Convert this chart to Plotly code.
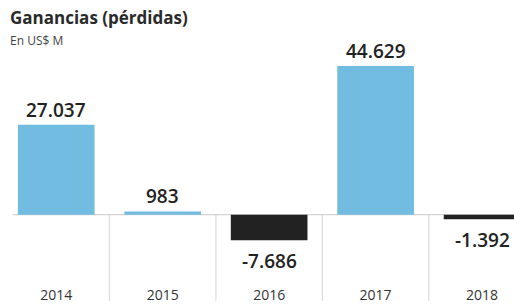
import plotly.graph_objects as go

years = ["2014", "2015", "2016", "2017", "2018"]
values = [27037, 983, -7686, 44629, -1392]
title = "Ganancias (pérdidas)"
subtitle = "En US$ M"

BLUE = "#72bbe1"
BLACK = "#222222"

def fmt(v):
    s = f"{abs(v):,}".replace(",", ".")
    return ("-" if v < 0 else "") + s

colors = [BLUE if v >= 0 else BLACK for v in values]
labels = [fmt(v) for v in values]

W, H = 514, 304
mt, mb = 0, 18
plot_h = H - mt - mb
zero_px = 217
scale = 91 / 27037  # px per unit
ymax = (zero_px - mt) / scale
ymin = -(H - mb - zero_px) / scale

fig = go.Figure(go.Bar(
    x=years, y=values, marker_color=colors, marker_line_width=0,
    hoverinfo="x+y",
))

zero_paper = (-ymin) / (ymax - ymin)
shapes = [dict(type="line", xref="x", yref="y", x0=-0.41, x1=4.4, y0=0, y1=0,
               line=dict(color="#d4d4d4", width=1.2), layer="below")]
for i in range(len(years) - 1):
    shapes.append(dict(type="line", xref="x", yref="paper", x0=i + 0.5, x1=i + 0.5,
                       y0=zero_paper, y1=-mb / plot_h,
                       line=dict(color="#dddddd", width=1.2), layer="below"))

annotations = [
    dict(text=f"<b>{title}</b>", xref="paper", yref="paper", x=0, y=1, xshift=5, yshift=-4,
         xanchor="left", yanchor="top", showarrow=False,
         font=dict(family="Open Sans", size=17, color="#2a2a2a")),
    dict(text=subtitle, xref="paper", yref="paper", x=0, y=1, xshift=5, yshift=-30,
         xanchor="left", yanchor="top", showarrow=False,
         font=dict(family="Open Sans", size=12, color="#444444")),
]
for i, (v, lab) in enumerate(zip(values, labels)):
    annotations.append(dict(
        text=lab, x=i, y=v, xref="x", yref="y", showarrow=False,
        xanchor="center", yanchor="bottom" if v >= 0 else "top",
        yshift=0 if v >= 0 else -6,
        font=dict(family="Open Sans", size=19, color="#222222", weight=600),
    ))

fig.update_layout(
    width=W, height=H, margin=dict(l=3, r=0, t=mt, b=mb),
    paper_bgcolor="white", plot_bgcolor="white",
    bargap=0.28, showlegend=False, shapes=shapes, annotations=annotations,
    font=dict(family="Open Sans", color="#333333"),
    xaxis=dict(type="category", range=[-0.5, 4.3], showgrid=False, zeroline=False,
               showline=False, ticks="", tickfont=dict(size=14, color="#333333"),
               ticklabelstandoff=2),
    yaxis=dict(range=[ymin, ymax], visible=False, showgrid=False, zeroline=False),
)

fig.write_html("out.html", config={"displayModeBar": False},
               post_script="document.body.style.margin='0';document.body.style.overflow='hidden';")
